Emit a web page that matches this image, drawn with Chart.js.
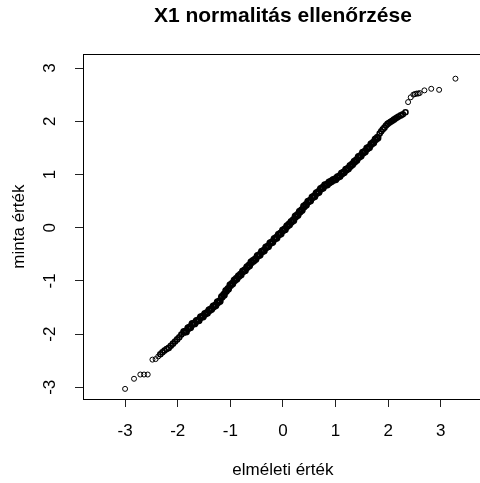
<!DOCTYPE html>
<html><head><meta charset="utf-8">
<script src="https://cdn.jsdelivr.net/npm/chart.js@4/dist/chart.umd.min.js"></script>
<style>
html,body{margin:0;padding:0;overflow:hidden;background:#fff;width:480px;height:483px}
#wrap{width:488px;height:483px}
</style></head>
<body><div id="wrap"><canvas id="c" width="488" height="483"></canvas></div>
<script>
const titleText = "X1 normalitás ellenőrzése";
const xAxisTitle = "elméleti érték";
const yAxisTitle = "minta érték";
const xTickValues = [-3, -2, -1, 0, 1, 2, 3];
const yTickValues = [-3, -2, -1, 0, 1, 2, 3];

// dense central part of the Q-Q plot (theoretical vs sample quantiles)
const denseX = [-1.88,-1.84,-1.80,-1.76,-1.72,-1.68,-1.64,-1.60,-1.56,-1.52,-1.48,-1.44,-1.40,-1.36,-1.32,-1.28,-1.24,-1.20,-1.16,-1.12,-1.08,-1.04,-1.00,-0.96,-0.92,-0.88,-0.84,-0.80,-0.76,-0.72,-0.68,-0.64,-0.60,-0.56,-0.52,-0.48,-0.44,-0.40,-0.36,-0.32,-0.28,-0.24,-0.20,-0.16,-0.12,-0.08,-0.04,0.00,0.04,0.08,0.12,0.16,0.20,0.24,0.28,0.32,0.36,0.40,0.44,0.48,0.52,0.56,0.60,0.64,0.68,0.72,0.76,0.80,0.84,0.88,0.92,0.96,1.00,1.04,1.08,1.12,1.16,1.20,1.24,1.28,1.32,1.36,1.40,1.44,1.48,1.52,1.56,1.60,1.64,1.68,1.72,1.76,1.80];
const denseY = [-1.96,-1.95,-1.89,-1.87,-1.81,-1.80,-1.75,-1.74,-1.68,-1.67,-1.62,-1.60,-1.55,-1.53,-1.48,-1.46,-1.40,-1.38,-1.30,-1.26,-1.19,-1.15,-1.08,-1.05,-0.99,-0.96,-0.91,-0.88,-0.82,-0.80,-0.74,-0.71,-0.65,-0.62,-0.59,-0.53,-0.51,-0.45,-0.43,-0.37,-0.35,-0.29,-0.27,-0.21,-0.19,-0.13,-0.11,-0.05,-0.03,0.03,0.06,0.11,0.14,0.21,0.24,0.30,0.33,0.40,0.43,0.49,0.51,0.57,0.59,0.65,0.67,0.73,0.75,0.80,0.81,0.85,0.87,0.90,0.91,0.95,0.97,1.02,1.04,1.09,1.11,1.16,1.19,1.24,1.27,1.33,1.35,1.41,1.43,1.49,1.51,1.57,1.60,1.66,1.69];

// shoulders (still crowded)
const lowerShoulderX = [-2.33,-2.29,-2.25,-2.21,-2.17,-2.13,-2.09,-2.05,-2.01,-1.97,-1.93];
const lowerShoulderY = [-2.38,-2.34,-2.31,-2.28,-2.26,-2.22,-2.18,-2.14,-2.10,-2.06,-2.01];
const upperShoulderX = [1.84,1.87,1.90,1.93,1.96,1.99,2.02,2.05,2.08,2.11,2.14,2.17,2.20,2.24,2.28,2.33];
const upperShoulderY = [1.77,1.81,1.85,1.88,1.92,1.95,1.97,1.99,2.01,2.03,2.05,2.07,2.09,2.11,2.13,2.17];

// sparse extreme tails
const lowerTailX = [-3.00,-2.83,-2.71,-2.64,-2.57,-2.48,-2.42,-2.37];
const lowerTailY = [-3.03,-2.84,-2.76,-2.76,-2.76,-2.48,-2.47,-2.42];
const upperTailX = [2.38,2.43,2.48,2.51,2.54,2.57,2.60,2.69,2.82,2.97,3.28];
const upperTailY = [2.36,2.45,2.50,2.51,2.52,2.52,2.53,2.58,2.61,2.59,2.80];

const FONT = "'Liberation Sans', Arial, Helvetica, sans-serif";
const toPts = (xs, ys) => xs.map((x, i) => ({x: x, y: ys[i]}));

const boxPlugin = {
  id: 'box',
  afterDraw(chart) {
    const {ctx, chartArea: a} = chart;
    ctx.save();
    ctx.strokeStyle = '#000';
    ctx.lineWidth = 1;
    const l = Math.round(a.left) + 0.5, t = Math.round(a.top) + 0.5;
    const r = Math.round(a.right) + 0.5, b = Math.round(a.bottom) + 0.5;
    ctx.strokeRect(l, t, r - l, b - t);
    ctx.restore();
  }
};

function pointSet(points, radius, width) {
  return {
    data: points,
    pointRadius: radius, pointHoverRadius: radius, pointBorderWidth: width,
    pointBorderColor: '#000', pointBackgroundColor: 'rgba(0,0,0,0)',
    borderColor: '#000', backgroundColor: 'rgba(0,0,0,0)'
  };
}

new Chart(document.getElementById('c'), {
  type: 'scatter',
  data: {
    datasets: [
      pointSet(toPts(denseX, denseY), 2.6, 2.6),
      pointSet(toPts(lowerShoulderX, lowerShoulderY).concat(toPts(upperShoulderX, upperShoulderY)), 2.5, 1.6),
      pointSet(toPts(lowerTailX, lowerTailY).concat(toPts(upperTailX, upperTailY)), 2.5, 1)
    ]
  },
  options: {
    responsive: false,
    animation: false,
    devicePixelRatio: 1,
    layout: {padding: {left: 0, right: 1, top: 0, bottom: 0}},
    plugins: {
      legend: {display: false},
      tooltip: {enabled: false},
      title: {
        display: true, text: titleText, fullSize: false, color: '#000',
        font: {family: FONT, size: 21, weight: 'bold', lineHeight: 1.2},
        padding: {top: 4, bottom: 25}
      }
    },
    scales: {
      x: {
        type: 'linear', position: 'bottom', min: -3.8, max: 3.8,
        afterBuildTicks: s => { s.ticks = xTickValues.map(v => ({value: v})); },
        afterFit: s => { s.height = 84; },
        grid: {drawOnChartArea: false, drawTicks: true, tickLength: 8, color: '#222', tickWidth: 1},
        border: {display: false},
        ticks: {color: '#000', font: {family: FONT, size: 17}, padding: 14, autoSkip: false, minRotation: 0, maxRotation: 0},
        title: {display: true, text: xAxisTitle, color: '#000', font: {family: FONT, size: 17}, padding: {top: 0, bottom: 2}}
      },
      y: {
        type: 'linear', position: 'left', min: -3.22, max: 3.26,
        afterBuildTicks: s => { s.ticks = yTickValues.map(v => ({value: v})); },
        afterFit: s => { s.width = 83; },
        grid: {drawOnChartArea: false, drawTicks: true, tickLength: 8, color: '#222', tickWidth: 1},
        border: {display: false},
        ticks: {color: '#000', font: {family: FONT, size: 17}, padding: 17, autoSkip: false, minRotation: 90, maxRotation: 90, crossAlign: 'center'},
        title: {display: true, text: yAxisTitle, color: '#000', font: {family: FONT, size: 17}, padding: {top: 9, bottom: 0}}
      }
    }
  },
  plugins: [boxPlugin]
});
</script>
</body></html>
